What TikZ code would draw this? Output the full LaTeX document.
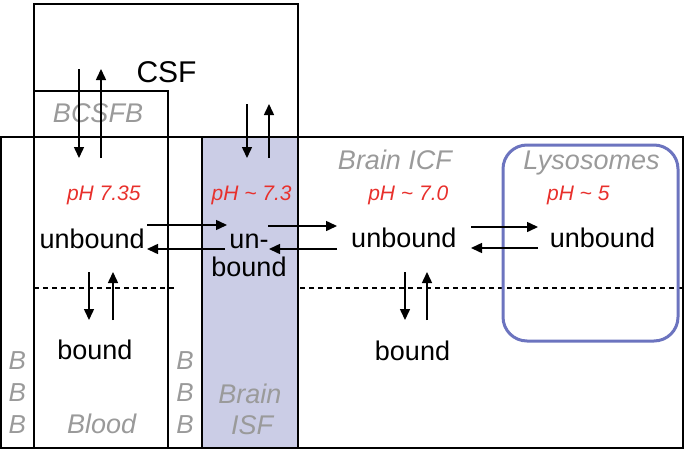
\documentclass[tikz,border=0pt]{standalone}
\usepackage{fontspec}
\setmainfont{Liberation Sans}
\usetikzlibrary{arrows.meta}
\definecolor{isf}{HTML}{CBCDE6}
\definecolor{lyso}{HTML}{6C74BF}
\definecolor{phred}{HTML}{E8302C}
\definecolor{lbl}{HTML}{9A9A9A}
\begin{document}
\begin{tikzpicture}[x=1pt,y=-1pt,
  box/.style={draw=black, line width=1.5pt},
  flow/.style={-{Triangle[length=11pt,width=10pt]}, line width=1.5pt},
  word/.style={font=\fontsize{27}{30}\selectfont, inner sep=0pt, anchor=base},
  big/.style={font=\fontsize{30}{32}\selectfont, inner sep=0pt, anchor=base},
  ph/.style={font=\fontsize{21}{23}\selectfont\itshape, text=phred, inner sep=0pt, anchor=base},
  tag/.style={font=\fontsize{27}{30}\selectfont\itshape, text=lbl, inner sep=0pt, anchor=base},
  btag/.style={font=\fontsize{26}{28}\selectfont\itshape, text=lbl, inner sep=0pt, anchor=base},
  sep/.style={dashed, dash pattern=on 5pt off 4pt, line width=1.2pt},
]
\useasboundingbox (0,0) rectangle (685,450);
% compartments
\fill[isf] (202,137) rectangle (298,448);
\draw[box] (1,137) rectangle (683,448);
\draw[box] (34,4) rectangle (298,137);
\draw[box] (34,91) rectangle (168,137);
\draw[box] (34,137) -- (34,448);
\draw[box] (168,137) -- (168,448);
\draw[box] (202,137) -- (202,448);
\draw[box] (298,137) -- (298,448);
\draw[sep] (34,288) -- (175,288);
\draw[sep] (300,288) -- (683,288);
\draw[lyso, line width=3pt, rounded corners=24pt] (503,145) rectangle (678,341);

% labels
\node[big] (csf) at (166.5,82) {CSF};
\node[tag] (bcsfb) at (98,122) {BCSFB};
\node[tag] (icf) at (395,169.3) {Brain ICF};
\node[tag] (lys) at (591.5,169.3) {Lysosomes};
\node[tag] (brain) at (250,403) {Brain};
\node[tag] (isflbl) at (252,434) {ISF};
\node[tag] (blood) at (101.7,433.5) {Blood};
\node[btag] (b1) at (17.2,369.5) {B};
\node[btag] (b2) at (17.2,401.5) {B};
\node[btag] (b3) at (17.2,433.5) {B};
\node[btag] (b4) at (185,369.5) {B};
\node[btag] (b5) at (185,401.5) {B};
\node[btag] (b6) at (185,433.5) {B};
\node[ph] (ph1) at (103.8,200.7) {pH 7.35};
\node[ph] (ph2) at (251.7,200.7) {pH \textasciitilde{} 7.3};
\node[ph] (ph3) at (408.3,200.7) {pH \textasciitilde{} 7.0};
\node[ph] (ph4) at (578.3,200.7) {pH \textasciitilde{} 5};
\node[word] (ub1) at (92.2,248) {unbound};
\node[word] (ub2a) at (249,248) {un-};
\node[word] (ub2b) at (249,276.7) {bound};
\node[word] (ub3) at (403.8,247.3) {unbound};
\node[word] (ub4) at (602.5,247.3) {unbound};
\node[word] (bd1) at (94.8,359.3) {bound};
\node[word] (bd3) at (412.5,360) {bound};

% arrow end points
\coordinate (c1t) at (79,69);   \coordinate (c1b) at (79,158);
\coordinate (c2t) at (101,69);  \coordinate (c2b) at (101,158);
\coordinate (c3t) at (247,104); \coordinate (c3b) at (247,158);
\coordinate (c4t) at (269,104); \coordinate (c4b) at (269,158);
\coordinate (h1l) at (147,225); \coordinate (h1r) at (227,225);
\coordinate (h2l) at (147,249); \coordinate (h2r) at (225,249);
\coordinate (h3l) at (268,226); \coordinate (h3r) at (337,226);
\coordinate (h4l) at (269,249); \coordinate (h4r) at (337,249);
\coordinate (h5l) at (471,227); \coordinate (h5r) at (538,227);
\coordinate (h6l) at (471,248); \coordinate (h6r) at (538,248);
\coordinate (v1t) at (89,272);  \coordinate (v1b) at (89,320);
\coordinate (v2t) at (113,272); \coordinate (v2b) at (113,320);
\coordinate (v3t) at (405,272); \coordinate (v3b) at (405,320);
\coordinate (v4t) at (427,272); \coordinate (v4b) at (427,320);

% arrows
\draw[flow] (c1t) -- (c1b);
\draw[flow] (c2b) -- (c2t);
\draw[flow] (c3t) -- (c3b);
\draw[flow] (c4b) -- (c4t);
\draw[flow] (h1l) -- (h1r);
\draw[flow] (h2r) -- (h2l);
\draw[flow] (h3l) -- (h3r);
\draw[flow] (h4r) -- (h4l);
\draw[flow] (h5l) -- (h5r);
\draw[flow] (h6r) -- (h6l);
\draw[flow] (v1t) -- (v1b);
\draw[flow] (v2b) -- (v2t);
\draw[flow] (v3t) -- (v3b);
\draw[flow] (v4b) -- (v4t);
\end{tikzpicture}
\end{document}
